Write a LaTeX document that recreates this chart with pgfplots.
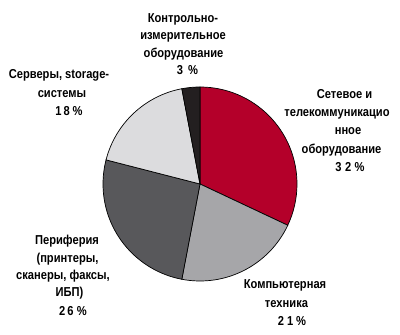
\documentclass[border=0pt]{standalone}
\usepackage{pgfplots}
\pgfplotsset{compat=1.18}
\usepackage{fontspec}
\setmainfont[FakeStretch=0.86]{Liberation Sans}
\definecolor{cNet}{RGB}{180,0,42}
\definecolor{cComp}{RGB}{166,166,169}
\definecolor{cPer}{RGB}{88,88,91}
\definecolor{cSrv}{RGB}{220,220,222}
\definecolor{cCtl}{RGB}{35,31,32}
% shares in percent, clockwise from 12 o'clock
\def\sNet{32}
\def\sComp{21}
\def\sPer{26}
\def\sSrv{18}
\def\sCtl{3}
\newcommand{\lbl}[3]{\node[anchor=base,inner sep=0pt] at (axis cs:#1,{335-#2}) {#3};}
\begin{document}
\begin{tikzpicture}[font=\bfseries\fontsize{13}{16}\selectfont]
\begin{axis}[
  width=400bp, height=335bp, scale only axis,
  xmin=0, xmax=400, ymin=0, ymax=335,
  hide axis, clip=false]
\path (rel axis cs:0,0) rectangle (rel axis cs:1,1);
\def\R{97bp}
\fill[cNet,draw=black,line width=0.7bp] (axis cs:200,151) -- ++(90:\R)
  arc[start angle=90, delta angle={-\sNet*3.6}, radius=\R] -- cycle;
\fill[cComp,draw=black,line width=0.7bp] (axis cs:200,151) -- ++({90-\sNet*3.6}:\R)
  arc[start angle={90-\sNet*3.6}, delta angle={-\sComp*3.6}, radius=\R] -- cycle;
\fill[cPer,draw=black,line width=0.7bp] (axis cs:200,151) -- ++({90-(\sNet+\sComp)*3.6}:\R)
  arc[start angle={90-(\sNet+\sComp)*3.6}, delta angle={-\sPer*3.6}, radius=\R] -- cycle;
\fill[cSrv,draw=black,line width=0.7bp] (axis cs:200,151) -- ++({90-(\sNet+\sComp+\sPer)*3.6}:\R)
  arc[start angle={90-(\sNet+\sComp+\sPer)*3.6}, delta angle={-\sSrv*3.6}, radius=\R] -- cycle;
\fill[cCtl,draw=black,line width=0.7bp] (axis cs:200,151) -- ++({90-(\sNet+\sComp+\sPer+\sSrv)*3.6}:\R)
  arc[start angle={90-(\sNet+\sComp+\sPer+\sSrv)*3.6}, delta angle={-\sCtl*3.6}, radius=\R] -- cycle;
% labels
\lbl{183}{22.7}{Контрольно-}
\lbl{183}{40}{измерительное}
\lbl{183.5}{57.3}{оборудование}
\lbl{187.5}{75}{3\kern5bp\%}
\lbl{59}{79}{Серверы, storage-}
\lbl{62}{97.3}{системы}
\lbl{69}{115.7}{1\kern2bp 8\kern3bp\%}
\lbl{344.5}{98.3}{Сетевое и}
\lbl{337}{116.7}{телекоммуникацио}
\lbl{348}{135}{нное}
\lbl{341.5}{153.3}{оборудование}
\lbl{350}{171.7}{3\kern3.5bp 2\kern3.5bp\%}
\lbl{67}{245}{Периферия}
\lbl{67.5}{262.3}{(принтеры,}
\lbl{63}{280}{сканеры, факсы,}
\lbl{69.5}{296.7}{ИБП)}
\lbl{73}{315}{2\kern2bp 6\kern3.5bp\%}
\lbl{285}{288.3}{Компьютерная}
\lbl{286.5}{307.3}{техника}
\lbl{292}{325.3}{2\kern3bp 1\kern3bp\%}
\end{axis}
\end{tikzpicture}
\end{document}
